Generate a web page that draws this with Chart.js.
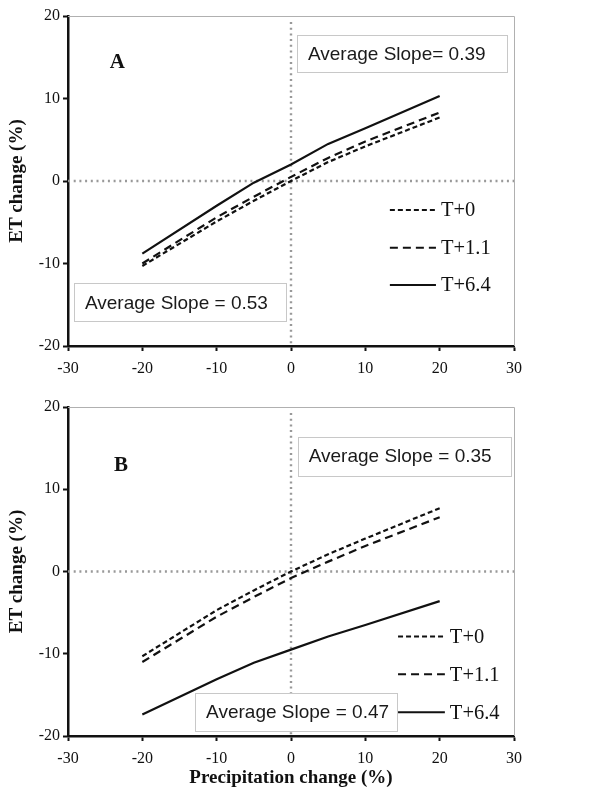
<!DOCTYPE html>
<html>
<head>
<meta charset="utf-8">
<script src="https://cdn.jsdelivr.net/npm/chart.js@4.4.1/dist/chart.umd.min.js"></script>
<style>
  html, body { margin: 0; padding: 0; background: #fff; }
  .panel { position: relative; width: 590px; }
  #wrapA { height: 390px; }
  #wrapB { height: 408px; }
</style>
</head>
<body>
<div class="panel" id="wrapA"><canvas id="chartA"></canvas></div>
<div class="panel" id="wrapB"><canvas id="chartB"></canvas></div>
<script>
// Precipitation change (%) sampled in the scenarios
const precip = [-20, -10, -5, 0, 5, 10, 20];
const seriesLabels = ['T+0', 'T+1.1', 'T+6.4'];

// Panel A - ET change (%)
const etA_T0  = [-10.3, -4.9, -2.4, 0.0, 2.3, 4.2, 7.7];
const etA_T11 = [-10.0, -4.4, -1.9, 0.5, 2.8, 4.8, 8.3];
const etA_T64 = [-8.8, -3.0, -0.2, 2.0, 4.5, 6.4, 10.3];

// Panel B - ET change (%)
const etB_T0  = [-10.3, -4.7, -2.3, 0.0, 2.1, 4.0, 7.7];
const etB_T11 = [-11.0, -5.5, -3.1, -0.8, 1.2, 3.1, 6.6];
const etB_T64 = [-17.4, -13.1, -11.1, -9.5, -7.9, -6.5, -3.6];

const notesA = ['Average Slope= 0.39', 'Average Slope = 0.53'];
const notesB = ['Average Slope = 0.35', 'Average Slope = 0.47'];

const xTickLabels = ['-30', '-20', '-10', '0', '10', '20', '30'];
const yTickLabels = ['-20', '-10', '0', '10', '20'];

const SERIF = '"Liberation Serif", "DejaVu Serif", serif';
const SANS = '"Liberation Sans", Arial, sans-serif';
const dashes = [[5, 3], [8, 5], []];

// Draws zero lines, frame, text boxes, panel letter and the legend
const decorPlugin = {
    id: 'decor',
    beforeDatasetsDraw(chart) {
        const { ctx, chartArea: a, scales: { x, y } } = chart;
        ctx.save();
        // gray top/right frame
        ctx.strokeStyle = '#b0b0b0';
        ctx.lineWidth = 1;
        ctx.beginPath();
        ctx.moveTo(a.left, a.top + 0.5);
        ctx.lineTo(a.right + 0.5, a.top + 0.5);
        ctx.lineTo(a.right + 0.5, a.bottom);
        ctx.stroke();
        // dotted zero lines
        ctx.strokeStyle = '#999';
        ctx.lineWidth = 2.4;
        ctx.setLineDash([2, 3.7]);
        const x0 = x.getPixelForValue(0), y0 = y.getPixelForValue(0);
        ctx.beginPath();
        ctx.moveTo(a.left, y0);
        ctx.lineTo(a.right, y0);
        ctx.moveTo(x0, a.top + 6);
        ctx.lineTo(x0, a.bottom);
        ctx.stroke();
        ctx.restore();
    },
    afterDatasetsDraw(chart, args, opts) {
        const { ctx, scales: { x, y } } = chart;
        ctx.save();
        // slope boxes
        opts.boxes.forEach(b => {
            const l = x.getPixelForValue(b.x1), r = x.getPixelForValue(b.x2);
            const t = y.getPixelForValue(b.y1), btm = y.getPixelForValue(b.y2);
            ctx.fillStyle = '#fff';
            ctx.fillRect(l, t, r - l, btm - t);
            ctx.strokeStyle = '#c8c8c8';
            ctx.lineWidth = 1;
            ctx.strokeRect(Math.round(l) + 0.5, Math.round(t) + 0.5, Math.round(r - l), Math.round(btm - t));
            ctx.fillStyle = '#1a1a1a';
            ctx.font = '19px ' + SANS;
            ctx.textAlign = 'left';
            ctx.textBaseline = 'middle';
            ctx.fillText(b.text, l + 11, (t + btm) / 2 + 1);
        });
        // panel letter
        ctx.fillStyle = '#111';
        ctx.font = 'bold 21px ' + SERIF;
        ctx.textAlign = 'left';
        ctx.textBaseline = 'middle';
        ctx.fillText(opts.letter.text, x.getPixelForValue(opts.letter.x), y.getPixelForValue(opts.letter.y));
        // legend
        const lg = opts.legend;
        chart.data.datasets.forEach((ds, i) => {
            const yy = y.getPixelForValue(lg.rows[i]);
            const lx1 = x.getPixelForValue(lg.x1), lx2 = x.getPixelForValue(lg.x2);
            ctx.strokeStyle = '#111';
            ctx.lineWidth = 2;
            ctx.setLineDash(ds.borderDash || []);
            ctx.beginPath();
            ctx.moveTo(lx1, yy);
            ctx.lineTo(lx2, yy);
            ctx.stroke();
            ctx.setLineDash([]);
            ctx.fillStyle = '#111';
            ctx.font = '20.5px ' + SERIF;
            ctx.fillText(ds.label, lx2 + 5, yy + 1);
        });
        ctx.restore();
    }
};

function makeDatasets(seriesList) {
    return seriesList.map((vals, i) => ({
        label: seriesLabels[i],
        data: precip.map((p, j) => ({ x: p, y: vals[j] })),
        borderColor: '#111',
        borderWidth: 2.2,
        borderDash: dashes[i],
        pointRadius: 0,
        tension: 0,
        fill: false
    }));
}

function makeChart(canvasId, seriesList, decor, withXTitle, xHeight) {
    const ctx = document.getElementById(canvasId).getContext('2d');
    return new Chart(ctx, {
        type: 'line',
        data: { datasets: makeDatasets(seriesList) },
        options: {
            responsive: true,
            maintainAspectRatio: false,
            animation: false,
            layout: { padding: { left: 0, right: 76, top: decor.top, bottom: 0 } },
            plugins: {
                legend: { display: false },
                tooltip: { enabled: false },
                decor: decor
            },
            scales: {
                x: {
                    type: 'linear',
                    min: -30, max: 30,
                    afterFit: s => { s.height = xHeight; },
                    afterBuildTicks: s => { s.ticks = xTickLabels.map(v => ({ value: Number(v) })); },
                    ticks: {
                        color: '#111',
                        font: { family: SERIF, size: 16 },
                        padding: 8,
                        maxRotation: 0,
                        callback: v => String(v)
                    },
                    grid: { drawOnChartArea: false, drawTicks: true, tickLength: 5, tickColor: '#111', tickWidth: 2 },
                    border: { color: '#111', width: 2.5 },
                    title: {
                        display: withXTitle,
                        text: 'Precipitation change (%)',
                        color: '#111',
                        font: { family: SERIF, size: 19, weight: 'bold' },
                        padding: { top: 6, bottom: 9 }
                    }
                },
                y: {
                    min: -20, max: 20,
                    afterFit: s => { s.width = 68; },
                    afterBuildTicks: s => { s.ticks = yTickLabels.map(v => ({ value: Number(v) })); },
                    ticks: {
                        color: '#111',
                        font: { family: SERIF, size: 16 },
                        padding: 3,
                        callback: v => String(v)
                    },
                    grid: { drawOnChartArea: false, drawTicks: true, tickLength: 5, tickColor: '#111', tickWidth: 2 },
                    border: { color: '#111', width: 2.5 },
                    title: {
                        display: true,
                        text: 'ET change (%)',
                        color: '#111',
                        font: { family: SERIF, size: 19, weight: 'bold' },
                        padding: { top: 6, bottom: 0 }
                    }
                }
            }
        },
        plugins: [decorPlugin]
    });
}

makeChart('chartA', [etA_T0, etA_T11, etA_T64], {
    top: 16,
    boxes: [
        { text: notesA[0], x1: 0.8, x2: 29.1, y1: 17.7, y2: 13.2 },
        { text: notesA[1], x1: -29.2, x2: -0.7, y1: -12.4, y2: -17.0 }
    ],
    letter: { text: 'A', x: -24.4, y: 14.3 },
    legend: { x1: 13.3, x2: 19.5, rows: [-3.5, -8.1, -12.6] }
}, false, 44);

makeChart('chartB', [etB_T0, etB_T11, etB_T64], {
    top: 17,
    boxes: [
        { text: notesB[0], x1: 0.9, x2: 29.5, y1: 16.4, y2: 11.7 },
        { text: notesB[1], x1: -12.9, x2: 14.3, y1: -14.8, y2: -19.4 }
    ],
    letter: { text: 'B', x: -23.8, y: 12.9 },
    legend: { x1: 14.4, x2: 20.7, rows: [-7.9, -12.5, -17.1] }
}, true, 62);
</script>
</body>
</html>
